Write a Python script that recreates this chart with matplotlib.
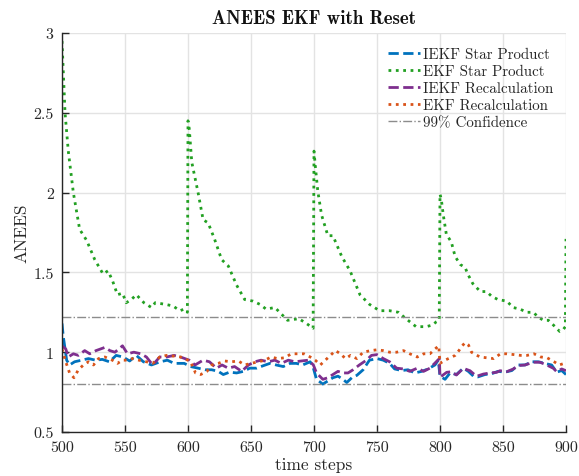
import matplotlib
matplotlib.use("Agg")
import matplotlib.pyplot as plt
from matplotlib.ticker import FixedLocator, FuncFormatter

# ---------------- data ----------------
ekf_star = [
    (500, 2.95), (502.4, 2.5), (505, 2.26), (509, 2.0), (514, 1.77), (519.6, 1.70),
    (526, 1.58), (532.6, 1.49), (536.5, 1.51), (540, 1.45), (544, 1.36), (548, 1.37),
    (551, 1.31), (555, 1.33), (559, 1.36), (565, 1.31), (571, 1.28), (574, 1.31),
    (582, 1.30), (588, 1.29), (593.6, 1.26), (597, 1.27), (599.5, 1.25),
    (600, 2.45), (601, 2.40), (603, 2.19), (608, 2.0), (612, 1.83), (616, 1.81),
    (621, 1.71), (626.7, 1.58), (632, 1.54), (638.6, 1.42), (645, 1.33), (651.6, 1.32),
    (657, 1.30), (662, 1.27), (669, 1.28), (674, 1.24), (679, 1.20), (688, 1.21),
    (694, 1.18), (699.3, 1.15),
    (700, 2.26), (701, 2.17), (703, 2.01), (706, 1.86), (711, 1.73), (715, 1.73),
    (722, 1.60), (728.6, 1.51), (736.5, 1.36), (744, 1.30), (752, 1.26), (760, 1.26),
    (767, 1.25), (773, 1.21), (781, 1.16), (789, 1.16), (794, 1.17), (797, 1.19),
    (799.4, 1.20),
    (800, 1.99), (801, 1.96), (802.6, 1.86), (805, 1.74), (809, 1.69), (812, 1.60),
    (816, 1.55), (820, 1.53), (822, 1.49), (826, 1.43), (832, 1.38), (837, 1.38),
    (841, 1.35), (846, 1.33), (853, 1.32), (858, 1.28), (863.5, 1.27), (869, 1.25),
    (874, 1.25), (878, 1.22), (882, 1.20), (886, 1.20), (890, 1.17), (895, 1.13),
    (897.6, 1.14), (899.5, 1.16), (900, 1.71),
]

iekf_star = [
    (500, 1.18), (501, 1.10), (503.7, 0.95), (506, 0.92), (510, 0.94), (515.6, 0.95),
    (521, 0.96), (526.7, 0.95), (532, 0.955), (537.6, 0.94), (543, 0.98), (548.4, 0.97),
    (553.7, 0.945), (559, 0.98), (564.6, 0.94), (571, 0.92), (578, 0.94), (583.6, 0.95),
    (589, 0.93), (597, 0.93), (602, 0.91), (608, 0.90), (613.5, 0.89), (618.8, 0.89),
    (624, 0.88), (628, 0.86), (633, 0.875), (638.6, 0.87), (644, 0.88), (649, 0.90),
    (654.5, 0.90), (659.6, 0.915), (665, 0.93), (670, 0.92), (675.6, 0.91), (681, 0.93),
    (686, 0.93), (691, 0.92), (697, 0.94), (699.5, 0.90), (702, 0.83), (707, 0.80),
    (711, 0.82), (715, 0.84), (719, 0.85), (723, 0.83), (726, 0.81), (730, 0.84),
    (734, 0.855), (739, 0.89), (744, 0.95), (750, 0.96), (755, 0.95), (760, 0.93),
    (764, 0.895), (769.6, 0.885), (774.6, 0.89), (780, 0.87), (785.5, 0.88), (790.5, 0.895),
    (796, 0.92), (798.6, 0.95), (800, 0.85), (804, 0.83), (808, 0.87), (813, 0.86),
    (818.5, 0.90), (822.5, 0.88), (826.5, 0.85), (830, 0.845), (835.7, 0.86), (841, 0.865),
    (846, 0.88), (851.6, 0.875), (857, 0.885), (862, 0.92), (867.5, 0.92), (872.8, 0.94),
    (878, 0.94), (883, 0.93), (888.6, 0.92), (892.6, 0.875), (896.6, 0.885), (900, 0.86),
]

iekf_recalc = [
    (500, 1.04), (503, 1.02), (505, 0.97), (509, 0.99), (513, 0.98), (518, 1.01),
    (522, 0.99), (527, 1.01), (534, 1.03), (538, 1.01), (542, 1.00), (548, 1.04),
    (552, 0.99), (557, 1.00), (562.6, 0.99), (567, 0.97), (572, 0.92), (577.6, 0.97),
    (583, 0.97), (589, 0.98), (594, 0.97), (601, 0.95), (605.6, 0.92), (612, 0.95),
    (617, 0.94), (622.6, 0.90), (627, 0.92), (632, 0.90), (637, 0.91), (642.6, 0.88),
    (648, 0.92), (653, 0.94), (658, 0.95), (663.6, 0.94), (669, 0.95), (674, 0.93),
    (679.6, 0.95), (685, 0.94), (690, 0.945), (695.6, 0.95), (699.5, 0.92), (702, 0.87),
    (707, 0.83), (711, 0.84), (715, 0.86), (719, 0.88), (723, 0.87), (727, 0.87),
    (731, 0.89), (736, 0.92), (741.6, 0.95), (745.6, 0.98), (750, 0.985), (755, 0.96),
    (760, 0.94), (765.6, 0.90), (771, 0.895), (776, 0.88), (782, 0.90), (787, 0.88),
    (792, 0.90), (797, 0.94), (799.5, 0.96), (800, 0.843), (805.3, 0.874), (809.3, 0.878),
    (813, 0.857), (818.5, 0.899), (823.8, 0.884), (829, 0.849), (834.4, 0.863), (839.7, 0.87),
    (845, 0.874), (847.6, 0.884), (853, 0.878), (858.2, 0.895), (862, 0.916), (867.5, 0.92),
    (874, 0.937), (879.4, 0.937), (884.7, 0.92), (890, 0.899), (892.6, 0.878), (896.6, 0.895),
    (900, 0.884),
]

ekf_recalc = [
    (500, 1.02), (503, 0.94), (506, 0.87), (509.5, 0.84), (513, 0.89), (517, 0.92),
    (521, 0.94), (525, 0.92), (529, 0.96), (534, 0.97), (540, 0.95), (544, 0.93),
    (548, 0.95), (552, 0.95), (556, 0.96), (561, 0.95), (567, 0.94), (572, 0.93),
    (577.6, 0.97), (583, 0.98), (589, 0.975), (594, 0.97), (597.6, 0.96), (602, 0.94),
    (606, 0.87), (610, 0.86), (615, 0.88), (619, 0.92), (624, 0.93), (629, 0.945),
    (634.5, 0.94), (640, 0.945), (645, 0.92), (650, 0.93), (656, 0.94), (661, 0.95),
    (666, 0.97), (671, 0.96), (676.6, 0.965), (682, 0.99), (687, 0.99), (692, 0.99),
    (697, 0.97), (701, 0.95), (705, 0.92), (709, 0.95), (713, 0.98), (717, 1.01),
    (721, 0.99), (725, 0.96), (729, 0.98), (734, 0.96), (739, 1.00), (745, 1.01),
    (750, 1.015), (755, 1.01), (760, 1.00), (765.6, 1.00), (771, 1.01), (776, 0.99),
    (782, 0.97), (787, 0.99), (792, 0.99), (796, 1.02), (799, 1.04), (800, 0.93),
    (804, 0.95), (808, 0.965), (812, 0.98), (815, 1.01), (817.6, 1.04), (820, 1.06),
    (822.6, 1.045), (825, 1.00), (828, 0.985), (832, 0.97), (837, 0.965), (842.6, 0.96),
    (848, 0.99), (853, 0.99), (858.6, 0.985), (864, 0.98), (869, 0.98), (874.6, 0.99),
    (880, 0.97), (885, 0.965), (890.6, 0.94), (894.6, 0.92), (898.6, 0.93), (900, 0.925),
]

conf_upper = 1.22
conf_lower = 0.80
x_range = [500, 900]
x_ticks = [500, 550, 600, 650, 700, 750, 800, 850, 900]
y_ticks = [0.5, 1, 1.5, 2, 2.5, 3]

labels = ["IEKF Star Product", "EKF Star Product", "IEKF Recalculation",
          "EKF Recalculation", "99% Confidence"]
title = "ANEES EKF with Reset"
xlabel = "time steps"
ylabel = "ANEES"

# ---------------- styling ----------------
plt.rcParams['font.family'] = ['cmr10', 'DejaVu Serif']
plt.rcParams['axes.formatter.use_mathtext'] = True

fig = plt.figure(figsize=(5.79, 4.77), dpi=100)
ax = fig.add_axes([62 / 579, 44 / 477, 504 / 579, 399 / 477])


def xy(pairs):
    return [p[0] for p in pairs], [p[1] for p in pairs]


lw = 2.0
ax.plot(*xy(iekf_star), linestyle='--', color='#0072BD', lw=lw, label=labels[0])
ax.plot(*xy(ekf_star), linestyle=':', color='#22A022', lw=lw, label=labels[1])
ax.plot(*xy(iekf_recalc), linestyle='--', color='#7E2F8E', lw=lw, label=labels[2])
ax.plot(*xy(ekf_recalc), linestyle=':', color='#D95319', lw=lw, label=labels[3])
ax.plot(x_range, [conf_upper] * 2, linestyle='-.', color='#8c8c8c', lw=1.0, label=labels[4])
ax.plot(x_range, [conf_lower] * 2, linestyle='-.', color='#8c8c8c', lw=1.0)

ax.set_xlim(x_range)
ax.set_ylim(0.5, 3)
ax.xaxis.set_major_locator(FixedLocator(x_ticks))
ax.yaxis.set_major_locator(FixedLocator(y_ticks))
ax.xaxis.set_major_formatter(FuncFormatter(lambda v, p: f"{v:g}"))
ax.yaxis.set_major_formatter(FuncFormatter(lambda v, p: f"{v:g}"))

ax.grid(True, color='#e3e3e3', lw=1.0)
ax.set_axisbelow(True)
for s in ['top', 'right']:
    ax.spines[s].set_visible(False)
for s in ['left', 'bottom']:
    ax.spines[s].set_color('#262626')
    ax.spines[s].set_linewidth(1.0)
ax.tick_params(direction='in', length=5, width=1.0, color='#262626',
               labelsize=11.5, labelcolor='#262626', pad=6)

ax.set_xlabel(xlabel, fontsize=12.5, color='#262626', labelpad=2)
ax.set_ylabel(ylabel, fontsize=12.5, color='#262626', labelpad=3)
ax.set_title(title, fontsize=13.5, family=['cmb10', 'DejaVu Serif'], color='#111111', pad=7)

leg = ax.legend(loc='upper right', frameon=False, fontsize=10.8,
                handlelength=2.15, handletextpad=0.15, labelspacing=0.22,
                borderaxespad=0.3, bbox_to_anchor=(0.995, 0.99))
for t in leg.get_texts():
    t.set_color('#262626')

fig.savefig("out.png", dpi=100)
